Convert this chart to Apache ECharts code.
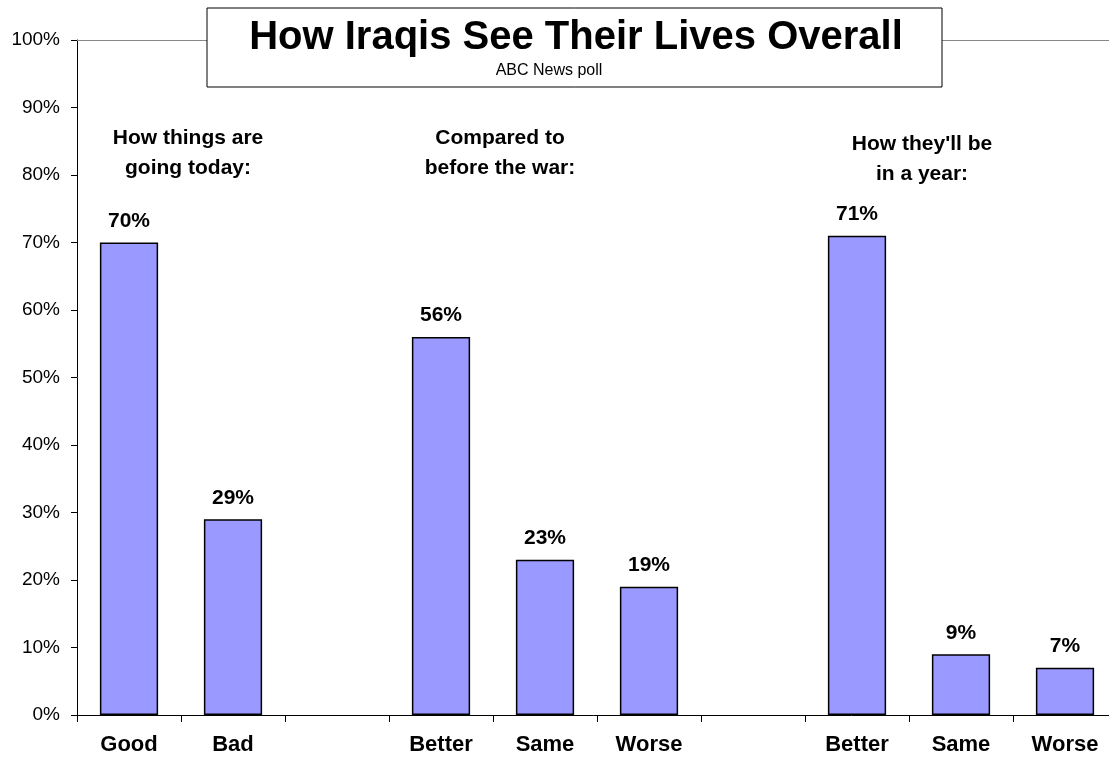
<!DOCTYPE html>
<html>
<head>
<meta charset="utf-8">
<script src="https://cdn.jsdelivr.net/npm/echarts@6/dist/echarts.min.js"></script>
<style>
  html, body { margin: 0; padding: 0; background: #fff; }
  #chart { width: 1109px; height: 762px; }
</style>
</head>
<body>
<div id="chart"></div>
<script>
// categories (blank slots separate the three questions)
const categories = ['Good', 'Bad', '', 'Better', 'Same', 'Worse', '', 'Better', 'Same', 'Worse']
const values = [70, 29, null, 56, 23, 19, null, 71, 9, 7]
const yTicks = [0, 10, 20, 30, 40, 50, 60, 70, 80, 90, 100]
const groupLabels = [
  'How things are\ngoing today:',
  'Compared to\nbefore the war:',
  "How they'll be\nin a year:"
]
const titleText = 'How Iraqis See Their Lives Overall'
const subText = 'ABC News poll'

const font = 'Arial, "Liberation Sans", sans-serif'

let chart = echarts.init(document.getElementById('chart'))

// group label helper, x/y are the centre of the two-line block
function groupText(text, x, y) {
  return {
    type: 'text', x: x, y: y, z: 11,
    style: {
      text: text, fill: '#000', font: 'bold 21px ' + font,
      lineHeight: 30, align: 'center', verticalAlign: 'middle'
    }
  }
}

const option = {
  animation: false,
  // plot runs a little past the right edge, last slot is cut like the original
  grid: { left: 77, width: 1040, top: 40, bottom: 47, outerBoundsMode: 'none' },
  xAxis: [
    {
      type: 'category',
      data: categories,
      axisLine: { lineStyle: { color: '#000', width: 1 } },
      axisTick: { show: true, length: 7, interval: 0, lineStyle: { color: '#000' } },
      axisLabel: {
        interval: 0, margin: 19, color: '#000',
        fontFamily: font, fontWeight: 'bold', fontSize: 22
      }
    },
    {
      type: 'category',
      position: 'top',
      data: categories,
      axisLine: { lineStyle: { color: '#888', width: 1 } },
      axisTick: { show: false },
      axisLabel: { show: false }
    }
  ],
  yAxis: {
    type: 'value',
    min: yTicks[0],
    max: yTicks[yTicks.length - 1],
    interval: 10,
    axisLine: { show: true, lineStyle: { color: '#000' } },
    axisTick: { show: true, length: 6, lineStyle: { color: '#000' } },
    splitLine: { show: false },
    axisLabel: {
      formatter: '{value}%', color: '#000', margin: 17,
      fontFamily: font, fontSize: 19
    }
  },
  series: [
    {
      type: 'bar',
      data: values,
      barWidth: '56%',
      itemStyle: { color: '#9999FF', borderColor: '#000', borderWidth: 1.5 },
      label: {
        show: true, position: 'top', distance: 11,
        formatter: '{c}%', color: '#000',
        fontFamily: font, fontWeight: 'bold', fontSize: 21
      }
    }
  ],
  graphic: [
    {
      type: 'rect', x: 207, y: 8, z: 10,
      shape: { width: 735, height: 79 },
      style: { fill: '#fff', stroke: '#000', lineWidth: 1 }
    },
    {
      type: 'text', x: 576, y: 38, z: 11,
      style: {
        text: titleText, fill: '#000', font: 'bold 40px ' + font,
        align: 'center', verticalAlign: 'middle'
      }
    },
    {
      type: 'text', x: 549, y: 71, z: 11,
      style: {
        text: subText, fill: '#000', font: '16px ' + font,
        align: 'center', verticalAlign: 'middle'
      }
    },
    groupText(groupLabels[0], 188, 153),
    groupText(groupLabels[1], 500, 153),
    groupText(groupLabels[2], 922, 159)
  ]
}

chart.setOption(option)
</script>
</body>
</html>
